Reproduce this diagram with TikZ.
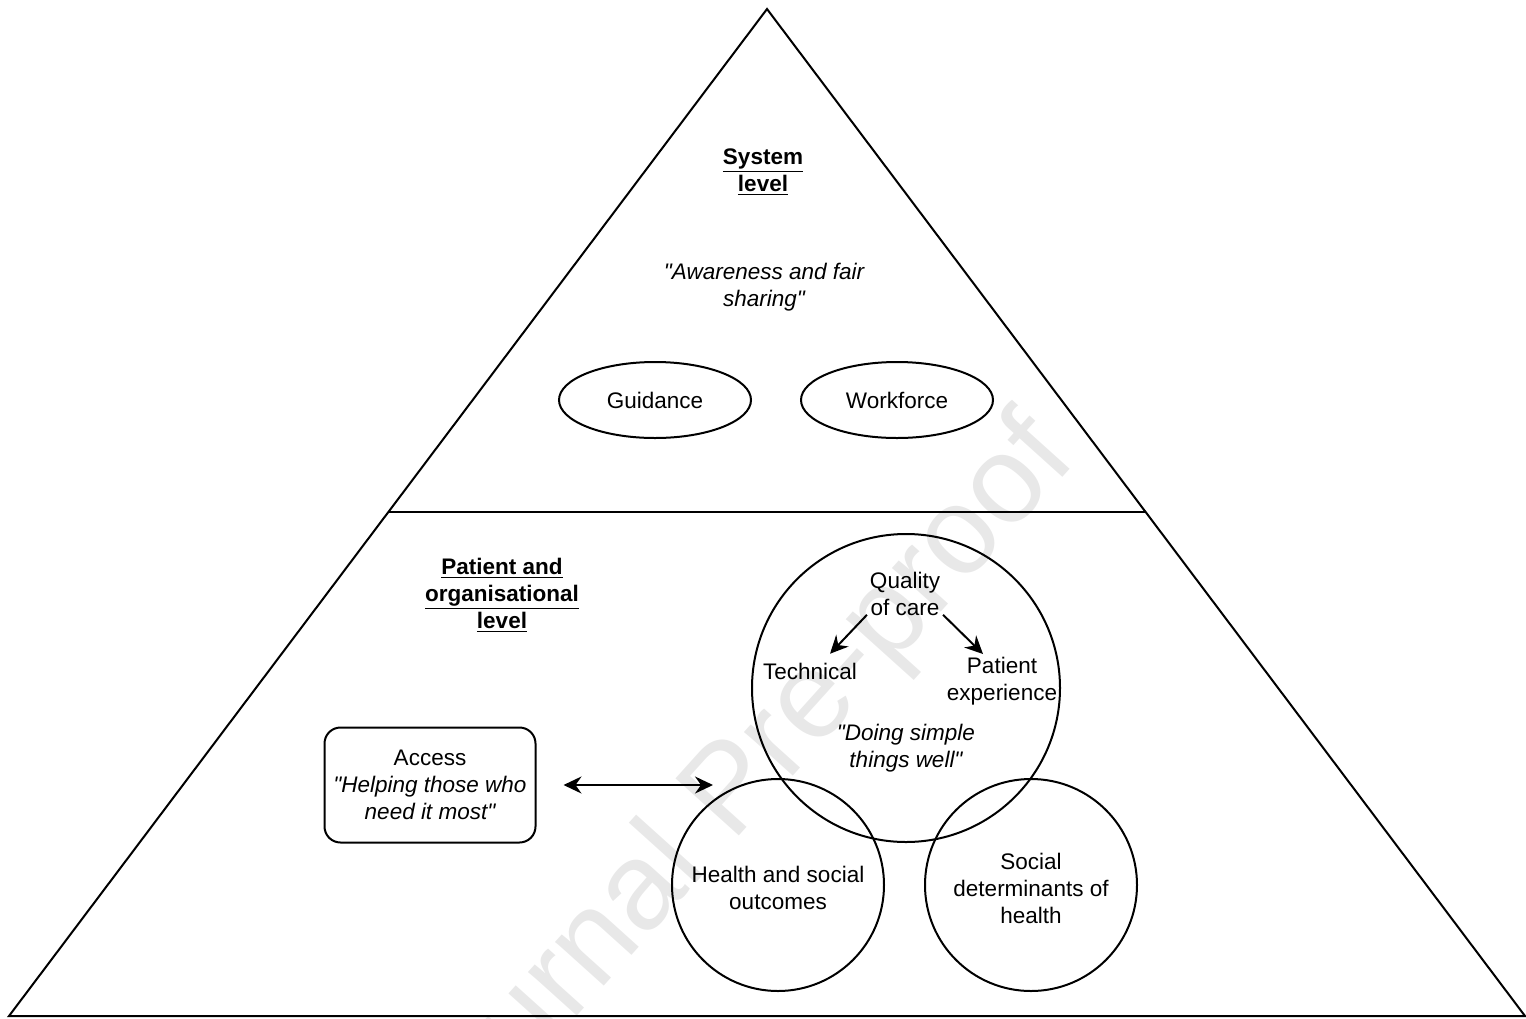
\documentclass[tikz,border=0pt]{standalone}
\usepackage{fontspec}
\setmainfont{Liberation Sans}
\usetikzlibrary{shapes.geometric,arrows.meta}
\newcommand{\dq}{\textquotedbl}
\begin{document}
\begin{tikzpicture}[x=0.5pt, y=-0.5pt, line width=1pt,
    font=\fontsize{11.25pt}{13.5pt}\selectfont,
    txt/.style={align=center, inner sep=2pt},
    oval/.style={draw, ellipse, minimum width=96pt, minimum height=38pt},
    ring/.style={draw, circle},
    tipc/.tip={Stealth[length=9pt, width=8.5pt, inset=3pt]},
    arr/.style={-tipc},
    darr/.style={tipc-tipc}]
  \useasboundingbox (0,0) rectangle (1526,1018);
  % watermark
  \node[text=black!9, rotate=48, font=\fontsize{62pt}{62pt}\selectfont] (wm) at (734,794) {Journal Pre-proof};
  % pyramid
  \coordinate (top) at (767,9);
  \coordinate (bl) at (9,1016);
  \coordinate (br) at (1525,1016);
  \draw (top) -- (bl) -- (br) -- cycle;
  \coordinate (ml) at (388.4,512);
  \coordinate (mr) at (1145.6,512);
  \draw (ml) -- (mr);
  % system level
  \node[txt] (sys) at (763,172) {\textbf{\underline{System}}\\\textbf{\underline{level}}};
  \node[txt] (aware) at (764,287) {\itshape \dq Awareness and fair\\\itshape sharing\dq};
  \node[oval] (guid) at (655,400) {Guidance};
  \node[oval] (work) at (897,400) {Workforce};
  % patient and organisational level
  \node[txt] (pat) at (502,595) {\textbf{\underline{Patient and}}\\\textbf{\underline{organisational}}\\\textbf{\underline{level}}};
  \node[ring, minimum size=154pt] (qoc) at (906,688) {};
  \node[ring, minimum size=106pt] (hso) at (778,885) {};
  \node[ring, minimum size=106pt] (sdh) at (1031,885) {};
  \node[txt] (qual) at (905,594) {Quality\\of care};
  \node[txt] (tech) at (810,671) {Technical};
  \node[txt] (pexp) at (1002,681) {Patient\\experience};
  \node[txt] (simple) at (906,748) {\itshape \dq Doing simple\\\itshape things well\dq};
  \node[txt] (hsotxt) at (778,888) {Health and social\\outcomes};
  \node[txt] (sdhtxt) at (1031,888) {Social\\determinants of\\health};
  \node[draw, rounded corners=8pt, minimum width=105.5pt, minimum height=57.5pt, align=center] (acc) at (430,785)
    {Access\\\itshape \dq Helping those who\\\itshape need it most\dq};
  \draw[arr] ([xshift=1pt, yshift=3pt]qual.south west) -- ([xshift=10pt, yshift=2pt]tech.north);
  \draw[arr] ([xshift=-1pt, yshift=3pt]qual.south east) -- ([xshift=-9.5pt, yshift=-1pt]pexp.north);
  \coordinate (aR) at (713,785);
  \draw[darr, shorten <=13.5pt] (acc) -- (aR);
\end{tikzpicture}
\end{document}
